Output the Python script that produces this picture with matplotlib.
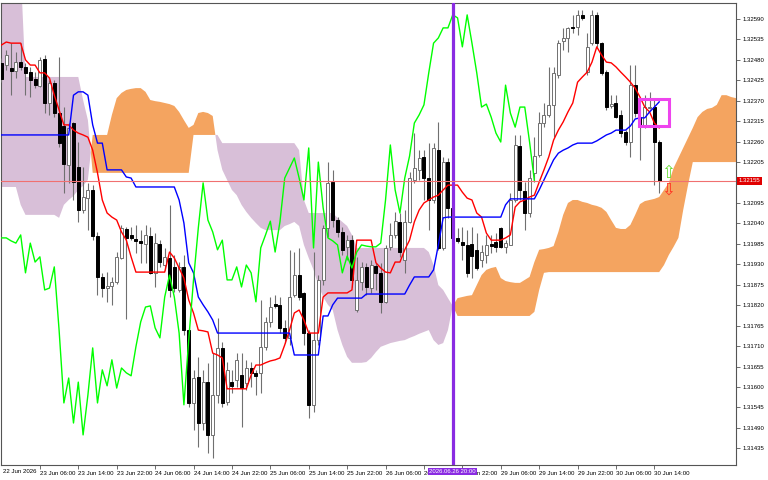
import numpy as np
import matplotlib
matplotlib.use("Agg")
import matplotlib.pyplot as plt
from matplotlib.patches import Rectangle
from matplotlib.transforms import blended_transform_factory

# H1 candles from 22 Jun 22:00 to 30 Jun 15:00
opens = [1.32472, 1.32466, 1.32458, 1.32450, 1.32474, 1.32461, 1.32447, 1.32428, 1.32410, 1.32482,
         1.32364, 1.32418, 1.32337, 1.32302, 1.32197, 1.32310, 1.32192, 1.32076, 1.32108, 1.32130,
         1.32006, 1.31896, 1.31866, 1.31872, 1.31882, 1.31947, 1.32025, 1.32009, 1.31998, 1.31993,
         1.31985, 1.32006, 1.31907, 1.31985, 1.31928, 1.31947, 1.31923, 1.31861, 1.31923, 1.31753,
         1.31557, 1.31627, 1.31503, 1.31613, 1.31471, 1.31578, 1.31705, 1.31560, 1.31613, 1.31619,
         1.31632, 1.31611, 1.31651, 1.31638, 1.31638, 1.31708, 1.31775, 1.31823, 1.31821, 1.31759,
         1.31732, 1.31847, 1.31901, 1.31853, 1.31745, 1.31552, 1.31726, 1.31888, 1.32028, 1.32151,
         1.32049, 1.32017, 1.31977, 1.31995, 1.31807, 1.31882, 1.31923, 1.31866, 1.31925, 1.31907,
         1.31829, 1.31977, 1.32009, 1.32044, 1.31942, 1.32044, 1.32157, 1.32184, 1.32219, 1.32162,
         1.32103, 1.32237, 1.31974, 1.32205, 1.32082, 1.32001, 1.31990, 1.31982, 1.31985, 1.31969,
         1.31942, 1.31955, 1.31985, 1.31990, 1.32028, 1.31977, 1.31982, 1.32103, 1.32248, 1.32127,
         1.32068, 1.32176, 1.32224, 1.32310, 1.32332, 1.32359, 1.32439, 1.32531, 1.32539, 1.32568,
         1.32568, 1.32601, 1.32447, 1.32525, 1.32601, 1.32525, 1.32447, 1.32356, 1.32364, 1.32332,
         1.32286, 1.32259, 1.32412, 1.32326, 1.32299, 1.32351, 1.32353, 1.32259]
highs = [1.32485, 1.32507, 1.32525, 1.32501, 1.32525, 1.32472, 1.32461, 1.32447, 1.32488, 1.32493,
         1.32426, 1.32426, 1.32488, 1.32353, 1.32310, 1.32313, 1.32259, 1.32192, 1.32149, 1.32143,
         1.32017, 1.31907, 1.31909, 1.31896, 1.31963, 1.32036, 1.32030, 1.32030, 1.32036, 1.32022,
         1.32036, 1.32030, 1.32014, 1.31995, 1.31974, 1.32090, 1.31955, 1.31936, 1.31955, 1.31759,
         1.31646, 1.31681, 1.31646, 1.31665, 1.31691, 1.31786, 1.31721, 1.31667, 1.31646, 1.31691,
         1.31691, 1.31673, 1.31667, 1.31646, 1.31834, 1.31788, 1.31842, 1.31847, 1.31842, 1.31780,
         1.31969, 1.31963, 1.31974, 1.31855, 1.31753, 1.31963, 1.31901, 1.32036, 1.32205, 1.32184,
         1.32057, 1.32030, 1.32009, 1.32009, 1.31950, 1.31936, 1.31934, 1.31942, 1.31934, 1.31934,
         1.31982, 1.32041, 1.32071, 1.32068, 1.32076, 1.32178, 1.32283, 1.32237, 1.32237, 1.32256,
         1.32256, 1.32313, 1.32219, 1.32216, 1.32090, 1.32028, 1.32030, 1.32022, 1.32030, 1.32014,
         1.31982, 1.32009, 1.32009, 1.32014, 1.32030, 1.31995, 1.32122, 1.32278, 1.32278, 1.32151,
         1.32184, 1.32272, 1.32340, 1.32364, 1.32461, 1.32461, 1.32533, 1.32566, 1.32568, 1.32601,
         1.32614, 1.32614, 1.32552, 1.32614, 1.32609, 1.32528, 1.32453, 1.32385, 1.32385, 1.32345,
         1.32291, 1.32466, 1.32466, 1.32353, 1.32385, 1.32394, 1.32372, 1.32264]
lows = [1.32420, 1.32453, 1.32385, 1.32431, 1.32453, 1.32385, 1.32380, 1.32404, 1.32407, 1.32337,
        1.32332, 1.32326, 1.32246, 1.32122, 1.32149, 1.32103, 1.32044, 1.32068, 1.32022, 1.31995,
        1.31847, 1.31842, 1.31829, 1.31821, 1.31877, 1.31944, 1.31783, 1.31995, 1.31960, 1.31934,
        1.31934, 1.31904, 1.31869, 1.31923, 1.31915, 1.31842, 1.31855, 1.31855, 1.31740, 1.31546,
        1.31484, 1.31439, 1.31484, 1.31422, 1.31409, 1.31557, 1.31546, 1.31552, 1.31584, 1.31600,
        1.31492, 1.31592, 1.31600, 1.31578, 1.31584, 1.31700, 1.31761, 1.31813, 1.31745, 1.31718,
        1.31713, 1.31842, 1.31834, 1.31713, 1.31517, 1.31533, 1.31713, 1.31874, 1.32004, 1.32030,
        1.32004, 1.31955, 1.31942, 1.31869, 1.31802, 1.31861, 1.31847, 1.31853, 1.31861, 1.31799,
        1.31826, 1.31969, 1.32001, 1.31950, 1.31907, 1.32041, 1.32149, 1.32157, 1.32103, 1.32022,
        1.32095, 1.31969, 1.31969, 1.32055, 1.31982, 1.31987, 1.31942, 1.31896, 1.31893, 1.31915,
        1.31923, 1.31934, 1.31960, 1.31963, 1.31974, 1.31960, 1.31982, 1.32098, 1.32103, 1.32022,
        1.32057, 1.32151, 1.32219, 1.32299, 1.32326, 1.32272, 1.32431, 1.32507, 1.32501, 1.32552,
        1.32547, 1.32587, 1.32439, 1.32520, 1.32515, 1.32439, 1.32345, 1.32351, 1.32324, 1.32272,
        1.32251, 1.32219, 1.32326, 1.32211, 1.32297, 1.32348, 1.32143, 1.32122]
closes = [1.32428, 1.32493, 1.32450, 1.32474, 1.32461, 1.32445, 1.32426, 1.32412, 1.32480, 1.32364,
          1.32418, 1.32337, 1.32256, 1.32200, 1.32297, 1.32151, 1.32076, 1.32111, 1.32130, 1.32006,
          1.31896, 1.31866, 1.31872, 1.31882, 1.31950, 1.32028, 1.32001, 1.32001, 1.31993, 1.31987,
          1.32009, 1.31907, 1.31987, 1.31936, 1.31950, 1.31861, 1.31866, 1.31923, 1.31753, 1.31557,
          1.31624, 1.31503, 1.31613, 1.31471, 1.31578, 1.31705, 1.31557, 1.31646, 1.31603, 1.31673,
          1.31597, 1.31651, 1.31638, 1.31630, 1.31708, 1.31775, 1.31815, 1.31818, 1.31759, 1.31732,
          1.31842, 1.31901, 1.31842, 1.31745, 1.31552, 1.31726, 1.31888, 1.32028, 1.32149, 1.32049,
          1.32017, 1.31969, 1.31995, 1.31888, 1.31888, 1.31923, 1.31869, 1.31928, 1.31907, 1.31829,
          1.31974, 1.32009, 1.32046, 1.31963, 1.32044, 1.32162, 1.32189, 1.32216, 1.32162, 1.32103,
          1.32243, 1.31974, 1.32205, 1.32082, 1.32001, 1.31993, 1.31982, 1.31907, 1.31952, 1.31920,
          1.31963, 1.31982, 1.31979, 1.31977, 1.31977, 1.31987, 1.32103, 1.32251, 1.32130, 1.32068,
          1.32162, 1.32221, 1.32310, 1.32332, 1.32359, 1.32445, 1.32525, 1.32539, 1.32566, 1.32566,
          1.32601, 1.32593, 1.32515, 1.32601, 1.32525, 1.32445, 1.32353, 1.32361, 1.32326, 1.32283,
          1.32259, 1.32412, 1.32337, 1.32299, 1.32353, 1.32353, 1.32259, 1.32155]

# Ichimoku lines (tenkan red, kijun blue)
tenkan = [1.32520, 1.32528, 1.32525, 1.32525, 1.32525, 1.32480, 1.32466, 1.32466, 1.32445, 1.32445,
          1.32431, 1.32385, 1.32345, 1.32305, 1.32305, 1.32291, 1.32283, 1.32278, 1.32272, 1.32237,
          1.32176, 1.32103, 1.32068, 1.32057, 1.32049, 1.32017, 1.31995, 1.31950, 1.31909, 1.31909,
          1.31909, 1.31909, 1.31909, 1.31909, 1.31909, 1.31963, 1.31947, 1.31920, 1.31893, 1.31834,
          1.31799, 1.31753, 1.31751, 1.31748, 1.31691, 1.31686, 1.31678, 1.31595, 1.31595, 1.31595,
          1.31595, 1.31595, 1.31632, 1.31659, 1.31659, 1.31665, 1.31670, 1.31673, 1.31678, 1.31713,
          1.31753, 1.31799, 1.31807, 1.31780, 1.31745, 1.31745, 1.31745, 1.31842, 1.31853, 1.31853,
          1.31853, 1.31853, 1.31853, 1.31861, 1.31995, 1.31995, 1.31995, 1.31995, 1.31934, 1.31920,
          1.31909, 1.31907, 1.31936, 1.31936, 1.31969, 1.31995, 1.32044, 1.32076, 1.32095, 1.32103,
          1.32111, 1.32116, 1.32130, 1.32143, 1.32143, 1.32143, 1.32124, 1.32108, 1.32103, 1.32068,
          1.32057, 1.32014, 1.31995, 1.31995, 1.31995, 1.32001, 1.32009, 1.32084, 1.32098, 1.32103,
          1.32111, 1.32116, 1.32151, 1.32184, 1.32219, 1.32264, 1.32291, 1.32313, 1.32340, 1.32364,
          1.32420, 1.32434, 1.32447, 1.32474, 1.32515, 1.32493, 1.32474, 1.32472, 1.32461, 1.32447,
          1.32434, 1.32420, 1.32404, 1.32380, 1.32353, 1.32340, 1.32310, 1.32297]
kijun = [1.32278, 1.32278, 1.32278, 1.32278, 1.32278, 1.32278, 1.32278, 1.32278, 1.32278, 1.32278,
         1.32278, 1.32278, 1.32278, 1.32278, 1.32278, 1.32385, 1.32394, 1.32394, 1.32385, 1.32305,
         1.32256, 1.32256, 1.32184, 1.32184, 1.32184, 1.32184, 1.32165, 1.32162, 1.32138, 1.32138,
         1.32138, 1.32138, 1.32138, 1.32138, 1.32138, 1.32138, 1.32138, 1.32103, 1.32041, 1.31934,
         1.31907, 1.31842, 1.31821, 1.31802, 1.31780, 1.31745, 1.31745, 1.31745, 1.31745, 1.31745,
         1.31745, 1.31745, 1.31745, 1.31745, 1.31745, 1.31745, 1.31745, 1.31745, 1.31745, 1.31745,
         1.31745, 1.31686, 1.31686, 1.31686, 1.31686, 1.31686, 1.31686, 1.31791, 1.31791, 1.31821,
         1.31839, 1.31839, 1.31839, 1.31839, 1.31839, 1.31839, 1.31850, 1.31850, 1.31850, 1.31850,
         1.31850, 1.31850, 1.31850, 1.31850, 1.31850, 1.31874, 1.31896, 1.31896, 1.31896, 1.31896,
         1.31915, 1.31982, 1.32055, 1.32057, 1.32057, 1.32057, 1.32057, 1.32057, 1.32057, 1.32057,
         1.32057, 1.32057, 1.32057, 1.32057, 1.32057, 1.32090, 1.32106, 1.32106, 1.32106, 1.32106,
         1.32106, 1.32106, 1.32130, 1.32157, 1.32184, 1.32211, 1.32229, 1.32237, 1.32243, 1.32251,
         1.32256, 1.32256, 1.32256, 1.32256, 1.32262, 1.32270, 1.32278, 1.32283, 1.32291, 1.32291,
         1.32291, 1.32302, 1.32321, 1.32324, 1.32324, 1.32340, 1.32353, 1.32367]

# Senkou spans, already shifted 26 bars forward
span_a = [1.32138, 1.32138, 1.32138, 1.32138, 1.32090, 1.32063, 1.32063, 1.32063, 1.32063, 1.32063,
          1.32063, 1.32063, 1.32055, 1.32090, 1.32103, 1.32114, 1.32130, 1.32141, 1.32157, 1.32278,
          1.32278, 1.32278, 1.32278, 1.32332, 1.32377, 1.32391, 1.32399, 1.32402, 1.32404, 1.32404,
          1.32394, 1.32372, 1.32369, 1.32367, 1.32364, 1.32361, 1.32356, 1.32340, 1.32318, 1.32297,
          1.32305, 1.32337, 1.32340, 1.32337, 1.32329, 1.32237, 1.32184, 1.32157, 1.32130, 1.32116,
          1.32090, 1.32071, 1.32055, 1.32041, 1.32028, 1.32022, 1.32022, 1.32022, 1.32022, 1.32033,
          1.32038, 1.32044, 1.32033, 1.31982, 1.31947, 1.31915, 1.31874, 1.31842, 1.31821, 1.31807,
          1.31753, 1.31713, 1.31681, 1.31665, 1.31665, 1.31665, 1.31667, 1.31678, 1.31694, 1.31708,
          1.31713, 1.31718, 1.31721, 1.31724, 1.31726, 1.31732, 1.31737, 1.31743, 1.31748, 1.31753,
          1.31726, 1.31713, 1.31718, 1.31753, 1.31818, 1.31839, 1.31842, 1.31845, 1.31847, 1.31874,
          1.31901, 1.31915, 1.31920, 1.31923, 1.31893, 1.31885, 1.31882, 1.31880, 1.31880, 1.31888,
          1.31896, 1.31936, 1.31969, 1.31971, 1.31974, 1.31979, 1.32017, 1.32063, 1.32095, 1.32103,
          1.32103, 1.32098, 1.32095, 1.32090, 1.32087, 1.32082, 1.32071, 1.32049, 1.32028, 1.32025,
          1.32025, 1.32036, 1.32063, 1.32092, 1.32100, 1.32103, 1.32106, 1.32111, 1.32130, 1.32149,
          1.32189, 1.32216, 1.32243, 1.32270, 1.32297, 1.32326, 1.32340, 1.32348, 1.32351, 1.32359,
          1.32385, 1.32385, 1.32380, 1.32377]
span_b = [1.32722, 1.32722, 1.32722, 1.32722, 1.32722, 1.32434, 1.32434, 1.32434, 1.32434, 1.32434,
          1.32434, 1.32434, 1.32434, 1.32434, 1.32434, 1.32434, 1.32434, 1.32372, 1.32318, 1.32176,
          1.32176, 1.32176, 1.32176, 1.32176, 1.32176, 1.32176, 1.32176, 1.32176, 1.32176, 1.32176,
          1.32176, 1.32176, 1.32176, 1.32176, 1.32176, 1.32176, 1.32176, 1.32176, 1.32176, 1.32176,
          1.32278, 1.32278, 1.32278, 1.32278, 1.32278, 1.32278, 1.32256, 1.32256, 1.32256, 1.32256,
          1.32256, 1.32256, 1.32256, 1.32256, 1.32256, 1.32256, 1.32256, 1.32256, 1.32256, 1.32256,
          1.32256, 1.32256, 1.32237, 1.32103, 1.32068, 1.32068, 1.32068, 1.32068, 1.32068, 1.32068,
          1.32055, 1.32044, 1.32033, 1.32009, 1.31974, 1.31974, 1.31974, 1.31974, 1.31974, 1.31974,
          1.31974, 1.31974, 1.31974, 1.31974, 1.31974, 1.31974, 1.31974, 1.31974, 1.31974, 1.31963,
          1.31928, 1.31874, 1.31861, 1.31839, 1.31818, 1.31791, 1.31791, 1.31791, 1.31791, 1.31791,
          1.31791, 1.31791, 1.31791, 1.31791, 1.31791, 1.31791, 1.31791, 1.31791, 1.31791, 1.31791,
          1.31791, 1.31802, 1.31861, 1.31907, 1.31909, 1.31909, 1.31909, 1.31909, 1.31909, 1.31909,
          1.31909, 1.31909, 1.31909, 1.31909, 1.31909, 1.31909, 1.31909, 1.31909, 1.31909, 1.31909,
          1.31909, 1.31909, 1.31909, 1.31909, 1.31909, 1.31909, 1.31909, 1.31909, 1.31928, 1.31955,
          1.31977, 1.32001, 1.32076, 1.32143, 1.32205, 1.32205, 1.32205, 1.32205, 1.32205, 1.32205,
          1.32205, 1.32205, 1.32205, 1.32205]

shift = 26
last_price = 1.32155
marker_bar = 94
marker_label = "2026.06.26 20:00"

tick_bars = [8, 16, 24, 32, 40, 48, 56, 64, 72, 80, 88, 96, 104, 112, 120, 128, 136]
tick_labels = ["23 Jun 06:00", "23 Jun 14:00", "23 Jun 22:00", "24 Jun 06:00", "24 Jun 14:00",
               "24 Jun 22:00", "25 Jun 06:00", "25 Jun 14:00", "25 Jun 22:00", "26 Jun 06:00",
               "26 Jun 14:00", "26 Jun 22:00", "29 Jun 06:00", "29 Jun 14:00", "29 Jun 22:00",
               "30 Jun 06:00", "30 Jun 14:00"]
price_ticks = [1.32590, 1.32535, 1.32480, 1.32425, 1.32370, 1.32315, 1.32260, 1.32205, 1.32095,
               1.32040, 1.31985, 1.31930, 1.31875, 1.31820, 1.31765, 1.31710, 1.31655, 1.31600,
               1.31545, 1.31490, 1.31435]

plt.rcParams['font.family'] = ['Liberation Sans', 'DejaVu Sans']

fig = plt.figure(figsize=(7.68, 4.8), dpi=100)
ax = fig.add_axes([1 / 768, 15 / 480, 735 / 768, 462 / 480])

o = np.array(opens); h = np.array(highs); l = np.array(lows); c = np.array(closes)
x = np.arange(len(o))

# kumo
a = np.array(span_a); b = np.array(span_b)
xc = np.arange(len(a))
ax.fill_between(xc, a, b, where=a >= b, interpolate=True, color='#F4A460', lw=0, zorder=1)
ax.fill_between(xc, a, b, where=a < b, interpolate=True, color='#D8BFD8', lw=0, zorder=1)

# candles
up = c >= o
ax.vlines(x, l, h, color='#707070', lw=0.8, zorder=3)
ax.bar(x[up], (c - o)[up], bottom=o[up], width=0.62, color='white', edgecolor='#707070', lw=0.7, zorder=4)
ax.bar(x[~up], (o - c)[~up], bottom=c[~up], width=0.62, color='black', edgecolor='black', lw=0.7, zorder=4)

# ichimoku lines
ax.plot(x, tenkan, color='#FF0000', lw=1.0, zorder=5)
ax.plot(x, kijun, color='#0000FF', lw=1.0, zorder=5)
ax.plot(x[shift:] - shift, c[shift:], color='#00FF00', lw=1.0, zorder=5)

# marker line + price line
ax.axvline(marker_bar, color='#8A2BE2', lw=2.3, zorder=6)
ax.axhline(last_price, color='#F07070', lw=0.8, zorder=7)

# signal box and arrows
ax.add_patch(Rectangle((132.8, 1.32302), 6.3, 0.00073, fill=False, edgecolor='#EE44EE', lw=2.2, zorder=8))
ax.text(138.9, 1.32176, '\u21e7', family='DejaVu Sans', fontsize=12, color='#66DD33',
        ha='center', va='center', zorder=8)
ax.text(138.9, 1.32130, '\u21e9', family='DejaVu Sans', fontsize=12, color='#FF3322',
        ha='center', va='center', zorder=8)

ax.set_xlim(-0.1, 153.0)
ax.set_ylim(1.31390, 1.32633)

for s in ax.spines.values():
    s.set_color('#555555')
    s.set_linewidth(0.8)

ax.yaxis.tick_right()
ax.set_yticks(price_ticks)
ax.set_yticklabels([f"{p:.5f}" for p in price_ticks])
ax.tick_params(axis='y', direction='out', length=3, width=0.6, color='#555555', labelsize=4.3, pad=1.5)
ax.set_xticks(tick_bars)
ax.set_xticklabels(tick_labels)
ax.tick_params(axis='x', direction='out', length=3, width=0.6, color='#555555', labelsize=4.4, pad=1.5)
for lbl in ax.get_xticklabels():
    lbl.set_ha('left')

trans = blended_transform_factory(ax.transData, ax.transAxes)
ax.text(0.4, -0.009, "22 Jun 2026", transform=trans, fontsize=4.4, ha='left', va='top')
ax.text(marker_bar, -0.008, marker_label, transform=trans, fontsize=4.3, color='white',
        ha='center', va='top', zorder=10, clip_on=False,
        bbox=dict(boxstyle='square,pad=0.2', fc='#8A2BE2', ec='none'))
ax.text(1.0035, last_price, f"{last_price:.5f}", transform=blended_transform_factory(ax.transAxes, ax.transData),
        fontsize=4.3, color='white', ha='left', va='center', zorder=10, clip_on=False,
        bbox=dict(boxstyle='square,pad=0.25', fc='#E00000', ec='none'))

fig.savefig('out.png', dpi=100, facecolor='white')
